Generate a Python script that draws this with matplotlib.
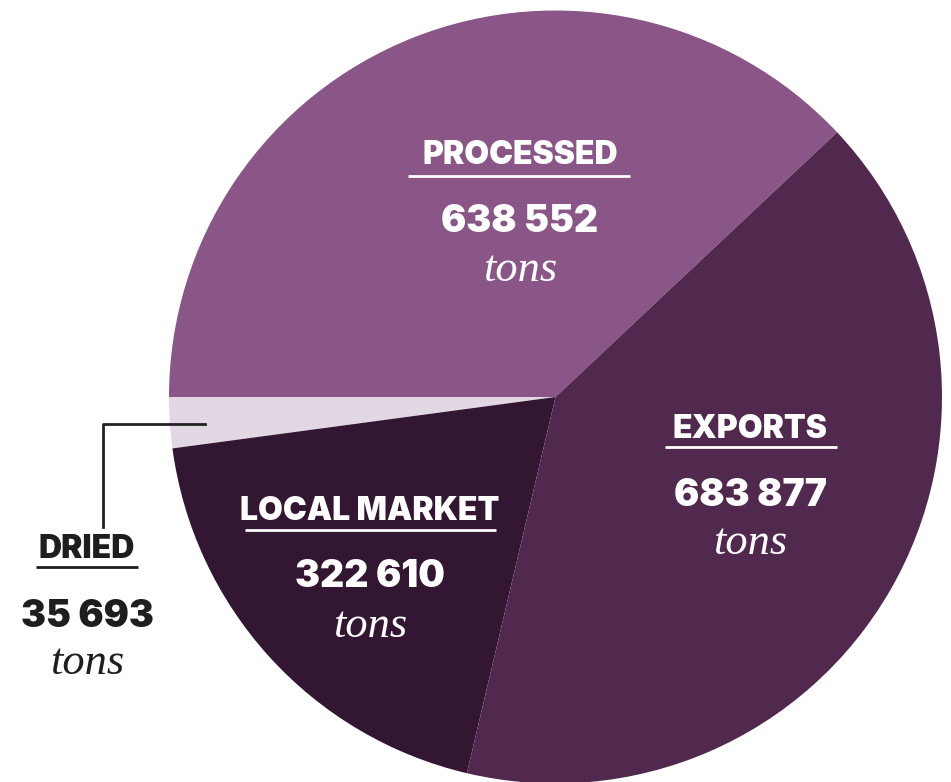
import matplotlib.pyplot as plt

categories = ['PROCESSED', 'DRIED', 'LOCAL MARKET', 'EXPORTS']
tons = [638552, 35693, 322610, 683877]
colors = ['#8a5587', '#e2d8e3', '#331632', '#52294e']

W, H = 951, 782
fig = plt.figure(figsize=(W / 100, H / 100), dpi=100)
ax = fig.add_axes([0, 0, 1, 1])

total = sum(tons)
start = 180 - tons[0] / total * 360
ax.pie(tons, colors=colors, startangle=start, counterclock=True,
       center=(555.5, H - 397), radius=386.5, frame=True,
       wedgeprops=dict(linewidth=0))
ax.set_xlim(0, W)
ax.set_ylim(0, H)
ax.set_aspect('equal')
ax.axis('off')


def fmt(v):
    return f'{v:,}'.replace(',', ' ')


# label positions in image pixels: (x, label y, underline y, x0, x1, number y, tons y)
spots = {
    'PROCESSED': (520, 156, 176, 408, 630, 222, 270, 'white'),
    'LOCAL MARKET': (370, 511, 530, 245, 496, 577, 626, 'white'),
    'EXPORTS': (750, 429, 447, 665, 837, 496, 543, 'white'),
    'DRIED': (87, 549, 567, 36, 138, 617, 663, '#1e1e1e'),
}

for name, v in zip(categories, tons):
    x, ly, uy, x0, x1, ny, ty, c = spots[name]
    ax.text(x, H - ly, name, ha='center', va='center', color=c,
            fontsize=23, fontweight='black', family='Inter')
    ax.plot([x0, x1], [H - uy, H - uy], color=c, lw=2, solid_capstyle='butt')
    ax.text(x, H - ny, fmt(v), ha='center', va='center', color=c,
            fontsize=27, fontweight='black', family='Inter')
    ax.text(x, H - ty, 'tons', ha='center', va='center', color=c,
            fontsize=32, style='italic', family='Liberation Serif')

# leader line for dried
ax.plot([205, 103, 103], [H - 424, H - 424, H - 527], color='#222222', lw=2)

fig.savefig('out.png', dpi=100)
